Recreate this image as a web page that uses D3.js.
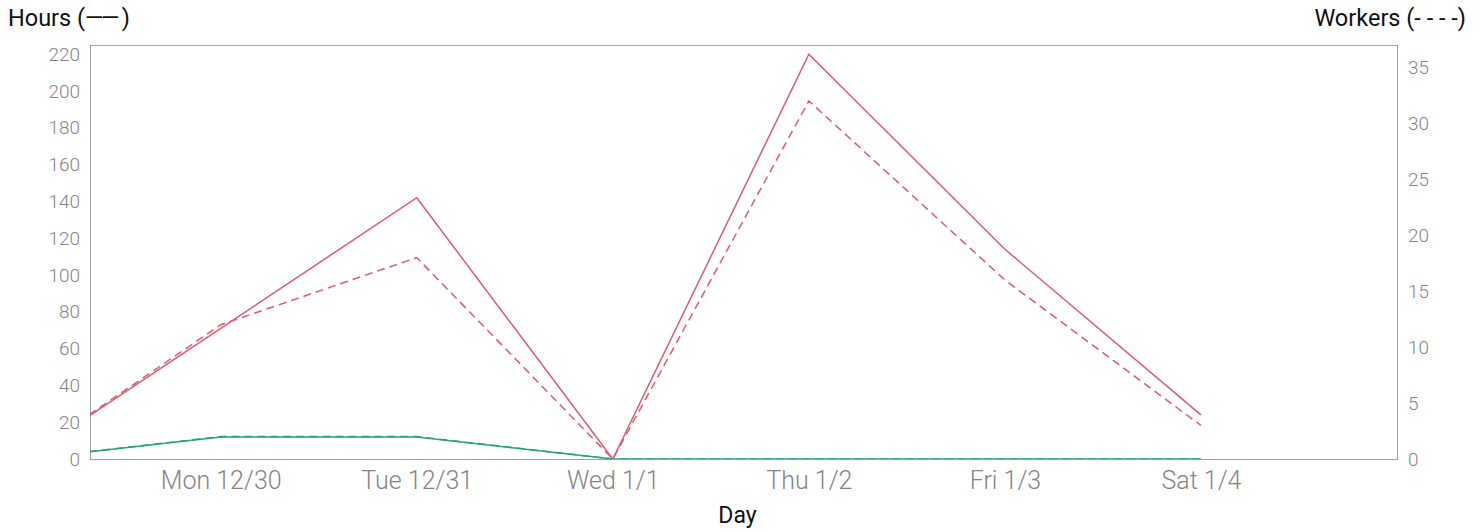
<!DOCTYPE html>
<html>
<head>
<meta charset="utf-8">
<script src="https://cdn.jsdelivr.net/npm/d3@7"></script>
<style>
  body { margin: 0; background: #fff; font-family: Roboto, sans-serif; }
</style>
</head>
<body>
<div id="root"></div>
<script>
const days = ["2019-12-29", "2019-12-30", "2019-12-31", "2020-01-01", "2020-01-02", "2020-01-03", "2020-01-04"];
const redHours = [0, 71, 142, 0, 220, 114, 24];
const redWorkers = [0, 12, 18, 0, 32, 16, 3];
const greenHours = [0, 12, 12, 0, 0, 0, 0];
const greenWorkers = [0, 2, 2, 0, 0, 0, 0];
const xDomain = ["2019-12-29T08:00", "2020-01-05T00:00"];
const hoursMax = 225;
const workersMax = 37;

const width = 1484, height = 532;
const margin = {top: 45, right: 87, bottom: 73, left: 90};
const parse = d3.isoParse;
const red = "#de5a70", green = "#22a678";

const svg = d3.select("#root").append("svg")
    .attr("width", width)
    .attr("height", height);

const x = d3.scaleTime()
    .domain(xDomain.map(parse))
    .range([margin.left, width - margin.right]);
const yL = d3.scaleLinear().domain([0, hoursMax]).range([height - margin.bottom, margin.top]);
const yR = d3.scaleLinear().domain([0, workersMax]).range([height - margin.bottom, margin.top]);

// clip so the first segment starts at the frame
svg.append("clipPath").attr("id", "clip")
  .append("rect")
    .attr("x", margin.left).attr("y", margin.top - 5)
    .attr("width", width - margin.left - margin.right)
    .attr("height", height - margin.top - margin.bottom + 5);

// left axis
const axL = svg.append("g")
    .attr("transform", `translate(${margin.left},0)`)
    .call(d3.axisLeft(yL).tickValues(d3.range(0, 221, 20)).tickSize(0).tickPadding(10));
// right axis
const axR = svg.append("g")
    .attr("transform", `translate(${width - margin.right},0)`)
    .call(d3.axisRight(yR).tickValues(d3.range(0, 36, 5)).tickSize(0).tickPadding(11));
// bottom axis
const axB = svg.append("g")
    .attr("transform", `translate(0,${height - margin.bottom})`)
    .call(d3.axisBottom(x).tickValues(days.slice(1).map(parse))
        .tickFormat(d3.timeFormat("%a %-m/%-d")).tickSize(0).tickPadding(9));

[axL, axR, axB].forEach(g => {
  g.select(".domain").remove();
  g.selectAll("text")
    .style("font-family", "Roboto, sans-serif")
    .style("font-weight", 300)
    .attr("fill", "#858585");
});
axL.selectAll("text").style("font-size", "19px");
axR.selectAll("text").style("font-size", "19px");
axB.selectAll("text").style("font-size", "25px").attr("dy", "0.82em");

// frame
svg.append("rect")
    .attr("x", margin.left + 0.5).attr("y", margin.top + 0.5)
    .attr("width", width - margin.left - margin.right)
    .attr("height", height - margin.top - margin.bottom)
    .attr("fill", "none")
    .attr("stroke", "#a0a0a0")
    .attr("stroke-width", 1);

const plot = svg.append("g").attr("clip-path", "url(#clip)");

function drawLine(values, scale, color, dashed) {
  const line = d3.line()
      .x((d, i) => x(parse(days[i])))
      .y(d => scale(d));
  plot.append("path")
      .datum(values)
      .attr("d", line)
      .attr("fill", "none")
      .attr("stroke", color)
      .attr("stroke-width", 1.5)
      .attr("stroke-dasharray", dashed ? "8,5" : null);
}

drawLine(greenWorkers, yR, green, true);
drawLine(greenHours, yL, green, false);
drawLine(redWorkers, yR, red, true);
drawLine(redHours, yL, red, false);

// titles
const hoursTitle = svg.append("text")
    .attr("x", 8).attr("y", 26)
    .style("font-size", "23.5px")
    .attr("fill", "#111");
hoursTitle.append("tspan").text("Hours (");
hoursTitle.append("tspan").style("letter-spacing", "-2.5px").text("\u2014\u2014");
hoursTitle.append("tspan").attr("dx", 5).text(")");

svg.append("text")
    .attr("x", 1466).attr("y", 26)
    .attr("text-anchor", "end")
    .style("font-size", "23.5px")
    .attr("fill", "#111")
    .text("Workers (- - - -)");
svg.append("text")
    .attr("x", (margin.left + width - margin.right) / 2 - 6)
    .attr("y", 523)
    .attr("text-anchor", "middle")
    .style("font-size", "23px")
    .attr("fill", "#111")
    .text("Day");
</script>
</body>
</html>
